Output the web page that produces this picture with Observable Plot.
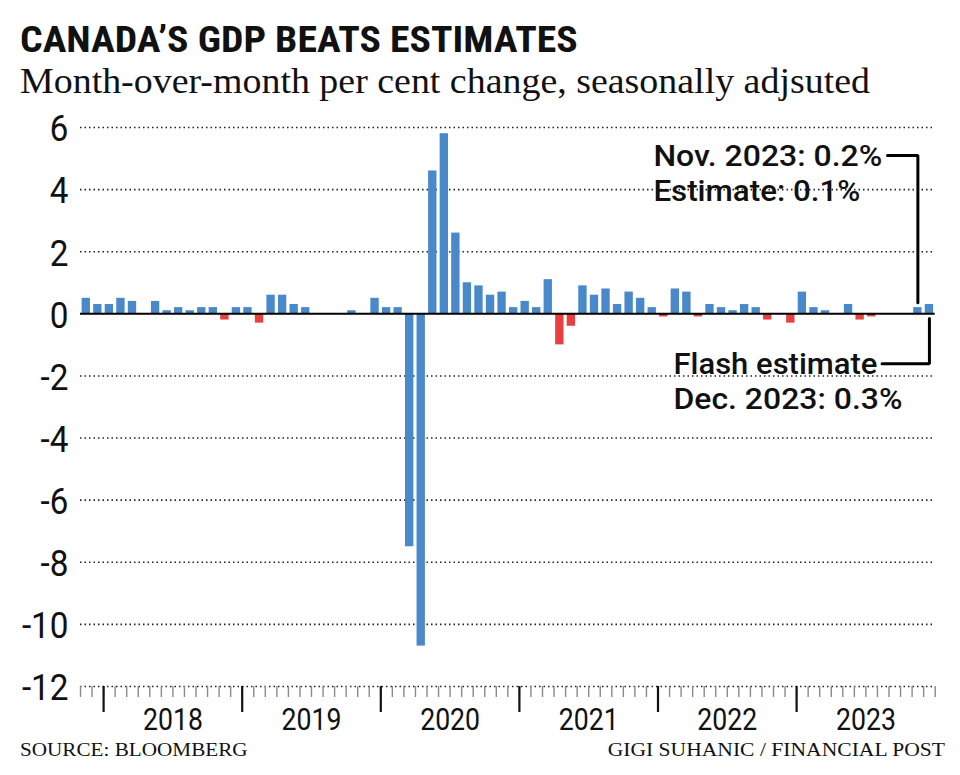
<!DOCTYPE html>
<html><head><meta charset="utf-8">
<script src="https://cdn.jsdelivr.net/npm/d3@7"></script>
<script src="https://cdn.jsdelivr.net/npm/@observablehq/plot@0.6"></script>
<style>
html,body{margin:0;padding:0;background:#fff;}
#wrap{position:relative;width:960px;height:775px;overflow:hidden;background:#fff;}
#head{position:absolute;left:0;top:0;}
#chart{position:absolute;left:0;top:105px;}
#foot{position:absolute;left:0;top:735px;}
</style></head>
<body>
<div id="wrap">
<svg id="head" width="960" height="105"></svg>
<div id="chart"></div>
<svg id="foot" width="960" height="40"></svg>
</div>
<script>
// ---------- text ----------
const titleText = "CANADA\u2019S GDP BEATS ESTIMATES";
const subtitleText = "Month-over-month per cent change, seasonally adjsuted";
const sourceText = "SOURCE: BLOOMBERG";
const creditText = "GIGI SUHANIC / FINANCIAL POST";
const novNote = ["Nov. 2023: 0.2%", "Estimate: 0.1%"];
const decNote = ["Flash estimate", "Dec. 2023: 0.3%"];

// ---------- data ----------
const firstMonth = "2017-11";
const gdpChange = [
  0.5, 0.3,                                                  // 2017 Nov-Dec
  0.3, 0.5, 0.4, 0.0, 0.4, 0.1, 0.2, 0.1, 0.2, 0.2, -0.2, 0.2, // 2018
  0.2, -0.3, 0.6, 0.6, 0.3, 0.2, 0.0, 0.0, 0.0, 0.1, 0.0, 0.5, // 2019
  0.2, 0.2, -7.5, -10.7, 4.6, 5.8, 2.6, 1.0, 0.9, 0.6, 0.7, 0.2, // 2020
  0.4, 0.2, 1.1, -1.0, -0.4, 0.9, 0.6, 0.8, 0.3, 0.7, 0.5, 0.2, // 2021
  -0.1, 0.8, 0.7, -0.1, 0.3, 0.2, 0.1, 0.3, 0.2, -0.2, 0.0, -0.3, // 2022
  0.7, 0.2, 0.1, 0.0, 0.3, -0.2, -0.1, 0.0, 0.0, 0.0, 0.2, 0.3  // 2023
];
const yTicks = [-12, -10, -8, -6, -4, -2, 0, 2, 4, 6];
const yearLabels = ["2018", "2019", "2020", "2021", "2022", "2023"];

// ---------- helpers ----------
const [fy, fm] = firstMonth.split("-").map(Number);
const monthIndex = (y, m) => (y - fy) * 12 + (m - fm);
// small declines shown in red; the pandemic collapse keeps the base colour as in the original
const data = gdpChange.map((v, i) => ({i, v, group: v < 0 && v > -2 ? "neg" : "pos"}));
const N = data.length;
const yearStart = yearLabels.map(y => monthIndex(+y, 1));
const nov = data[N - 2], dec = data[N - 1];

function condense(el, s) {
  let t = el.getAttribute("transform") || "";
  const xa = el.getAttribute("x");
  if (xa !== null && !isNaN(+xa) && +xa !== 0) { t += ` translate(${+xa},0)`; el.setAttribute("x", 0); }
  const dxa = el.getAttribute("dx");
  if (dxa !== null && !isNaN(+dxa)) { t += ` translate(${+dxa},0)`; el.removeAttribute("dx"); }
  el.setAttribute("transform", (t + ` scale(${s},1)`).trim());
}
function fit(el, target) {
  const w = el.getBBox().width;
  if (w > 0) condense(el, target / w);
}

// ---------- annotations (data space) ----------
const novLeader = [
  {x: 69.87, y: 5.10},
  {x: nov.i + 0.5, y: 5.10},
  {x: nov.i + 0.5, y: nov.v + 0.16}
];
const decLeader = [
  {x: dec.i + 0.5, y: -0.15},
  {x: dec.i + 0.5, y: -1.61},
  {x: 69.4, y: -1.61}
];
const noteRows = [
  {text: novNote[0], x: 49.6, y: 4.775},
  {text: novNote[1], x: 49.6, y: 3.63},
  {text: decNote[0], x: 51.34, y: -1.95},
  {text: decNote[1], x: 51.34, y: -3.05}
];
const noteWidths = [229, 207, 204, 229];

// ---------- chart ----------
const sans = "Roboto, 'Liberation Sans', sans-serif";
const plot = Plot.plot({
  width: 960, height: 633,
  marginLeft: 80, marginRight: 25.3, marginTop: 22, marginBottom: 52,
  style: {fontFamily: sans, background: "transparent", color: "#111", overflow: "visible"},
  x: {type: "linear", domain: [0, N], label: null},
  y: {domain: [-12, 6], label: null},
  color: {domain: ["pos", "neg"], range: ["#4a89c9", "#e8403e"]},
  marks: [
    Plot.gridY(yTicks.filter(d => d !== 0), {stroke: "#222", strokeOpacity: 1, strokeWidth: 1.6, strokeDasharray: "1.5,3"}),
    Plot.rectY(data, {x1: d => d.i, x2: d => d.i + 1, y1: 0, y2: d => d.v, fill: "group", insetLeft: 1.6, insetRight: 1.6}),
    Plot.ruleY([0], {stroke: "#000", strokeWidth: 2}),
    Plot.axisY({ticks: yTicks, tickSize: 0, tickPadding: 12, dy: 2, fontSize: 37, fill: "#111",
      tickFormat: d => d < 0 ? "-" + (-d) : String(d)}),
    Plot.axisX({ticks: d3.range(0, N + 1), tickSize: 11, tickFormat: () => "", stroke: "#8a8a8a", strokeWidth: 1.4}),
    Plot.axisX({ticks: yearStart, tickSize: 26, tickFormat: () => "", stroke: "#111", strokeWidth: 2.2}),
    Plot.axisX({ticks: yearStart.map(d => d + 6), tickSize: 0, tickPadding: 21, fontSize: 31, fill: "#111",
      tickFormat: d => yearLabels[yearStart.indexOf(d - 6)]}),
    Plot.line(novLeader, {x: "x", y: "y", stroke: "#000", strokeWidth: 3, strokeLinejoin: "miter", curve: "linear"}),
    Plot.line(decLeader, {x: "x", y: "y", stroke: "#000", strokeWidth: 3, strokeLinejoin: "miter", curve: "linear"}),
    Plot.text(noteRows, {x: "x", y: "y", text: "text", textAnchor: "start", lineAnchor: "bottom",
      fontSize: 30, fontWeight: 500, fill: "#111"})
  ]
});
document.getElementById("chart").appendChild(plot);

// condense tick labels
plot.querySelectorAll('g[aria-label="y-axis tick label"] text').forEach(el => condense(el, 0.9));
plot.querySelectorAll('g[aria-label="x-axis tick label"] text').forEach(el => {
  if (el.textContent) condense(el, 0.86);
});
plot.querySelectorAll('g[aria-label="text"] text').forEach((el, k) => fit(el, noteWidths[k]));

// ---------- header / footer ----------
const head = d3.select("#head");
const t1 = head.append("text").attr("transform", "translate(20,52)")
  .style("font-family", "'Liberation Sans Narrow', 'Roboto Condensed', Roboto, sans-serif")
  .style("font-weight", 700).style("font-size", "37px").attr("fill", "#111").text(titleText);
fit(t1.node(), 558);
const t2 = head.append("text").attr("transform", "translate(20,93)")
  .style("font-family", "'Liberation Serif', 'DejaVu Serif', serif")
  .style("font-size", "36px").attr("fill", "#111").text(subtitleText);
fit(t2.node(), 850);

const foot = d3.select("#foot");
const f1 = foot.append("text").attr("transform", "translate(20,21)")
  .style("font-family", "'Liberation Serif', serif").style("font-size", "19px").attr("fill", "#111").text(sourceText);
fit(f1.node(), 228);
const f2 = foot.append("text").attr("transform", "translate(945,21)").attr("text-anchor", "end")
  .style("font-family", "'Liberation Serif', serif").style("font-size", "19px").attr("fill", "#111").text(creditText);
fit(f2.node(), 338);
</script>
</body></html>
